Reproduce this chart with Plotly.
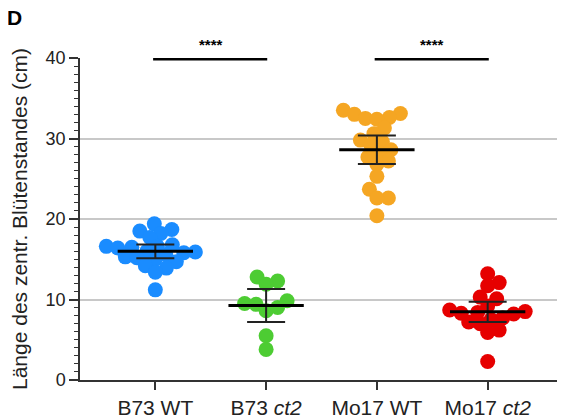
import numpy as np
import plotly.graph_objects as go

categories = ["B73 WT", "B73 <i>ct2</i>", "Mo17 WT", "Mo17 <i>ct2</i>"]
b73_wt = [19.4, 18.7, 18.5, 18.2, 17.7, 16.8, 16.6, 16.6, 16.5, 16.4, 16.0, 15.9,
          15.8, 15.6, 15.3, 15.2, 15.0, 14.7, 14.2, 13.9, 13.4, 11.2]
b73_ct2 = [12.8, 12.3, 11.9, 9.85, 9.5, 9.4, 9.0, 8.6, 5.5, 3.8]
mo17_wt = [33.5, 33.1, 33.0, 32.6, 32.5, 32.4, 31.3, 30.6, 29.8, 29.6, 29.2, 28.6,
           28.2, 27.7, 27.2, 26.8, 25.3, 23.7, 22.6, 22.6, 20.4]
mo17_ct2 = [13.2, 12.1, 11.7, 10.3, 10.1, 9.2, 8.7, 8.5, 8.4, 8.3, 8.2, 7.7, 7.5,
            7.2, 7.0, 6.2, 5.9, 2.3]
groups = [b73_wt, b73_ct2, mo17_wt, mo17_ct2]
colors = ["#1a8cff", "#4dcc33", "#f5a623", "#e60000"]
sig_pairs = [(0, 1, "****"), (2, 3, "****")]

# layout geometry (page body has an 8px margin, so figure is 8px smaller)
W, H = 557, 411
ML, MR, MT, MB = 72, 2, 50, 39
XR = [-0.68, 3.68]
YR = [0, 40]
sx = (W - ML - MR) / (XR[1] - XR[0])
sy = (H - MT - MB) / (YR[1] - YR[0])

T95 = {9: 2.262, 17: 2.110, 18: 2.101, 19: 2.093, 20: 2.086, 21: 2.080,
       22: 2.074, 23: 2.069, 24: 2.064}


def swarm(vals, min_d=11.5):
    ys = np.array(vals) * sy
    order = np.argsort(ys)
    placed = []
    offs = np.zeros(len(vals))
    for i in order:
        for k in range(0, 300):
            done = False
            for s in ((0.0,) if k == 0 else (k * 0.5, -k * 0.5)):
                ok = all((s - px) ** 2 + (ys[i] - py) ** 2 >= min_d ** 2 for px, py in placed)
                if ok:
                    offs[i] = s
                    placed.append((s, ys[i]))
                    done = True
                    break
            if done:
                break
    return offs / sx


fig = go.Figure()
for gi, (vals, col) in enumerate(zip(groups, colors)):
    offs = swarm(vals)
    fig.add_trace(go.Scatter(
        x=gi + offs, y=vals, mode="markers",
        marker=dict(size=15, color=col, line=dict(width=0)),
        showlegend=False, hoverinfo="y"))

for gi, vals in enumerate(groups):
    a = np.array(vals)
    m = a.mean()
    ci = T95.get(len(a) - 1, 2.08) * a.std(ddof=1) / np.sqrt(len(a))
    fig.add_trace(go.Scatter(
        x=[gi], y=[m], mode="markers", marker=dict(size=1, color="rgba(0,0,0,0)"),
        error_y=dict(type="data", array=[ci], color="#222222", thickness=2, width=19),
        showlegend=False, hoverinfo="skip"))
    fig.add_trace(go.Scatter(
        x=[gi - 0.34, gi + 0.34], y=[m, m], mode="lines",
        line=dict(color="black", width=3), showlegend=False, hoverinfo="skip"))

for a, b, txt in sig_pairs:
    fig.add_trace(go.Scatter(
        x=[a - 0.02, b + 0.01], y=[40, 40], mode="lines",
        line=dict(color="black", width=5), cliponaxis=False,
        showlegend=False, hoverinfo="skip"))
    fig.add_annotation(x=(a + b) / 2, y=40, text="<b>" + txt + "</b>", showarrow=False,
                       yshift=14, font=dict(size=15, color="black",
                                            family="Liberation Sans"))

fig.add_annotation(xref="paper", yref="paper", x=-0.135, y=1.126, text="<b>D</b>",
                   showarrow=False, xanchor="center", yanchor="middle",
                   font=dict(size=21, color="black", family="Liberation Sans"))

fig.update_layout(
    width=W, height=H, margin=dict(l=ML, r=MR, t=MT, b=MB, autoexpand=False),
    plot_bgcolor="white", paper_bgcolor="white",
    font=dict(family="Liberation Sans", color="#222222"),
    xaxis=dict(range=XR, tickmode="array", tickvals=[0, 1, 2, 3], ticktext=categories,
               automargin=False,
               showgrid=False, zeroline=False, showline=True, linecolor="#333333",
               linewidth=1.5, ticks="outside", ticklen=8, tickwidth=1.5,
               tickcolor="#333333", tickfont=dict(size=21, color="#222222")),
    yaxis=dict(range=YR, tickvals=[0, 10, 20, 30, 40], showgrid=True, automargin=False,
               gridcolor="#c8c8c8", gridwidth=1.5, zeroline=False, showline=True,
               linecolor="#333333", linewidth=1.5, ticks="outside", ticklen=9,
               tickwidth=1.5, tickcolor="#333333",
               tickfont=dict(size=18, color="#222222"),
               minor=dict(dtick=1, ticks="outside", ticklen=4, tickwidth=1,
                          tickcolor="#333333", showgrid=False),
               title=dict(text="Länge des zentr. Blütenstandes (cm)",
                          font=dict(size=21, color="#222222"), standoff=12)),
)

fig.write_html("out.html")
